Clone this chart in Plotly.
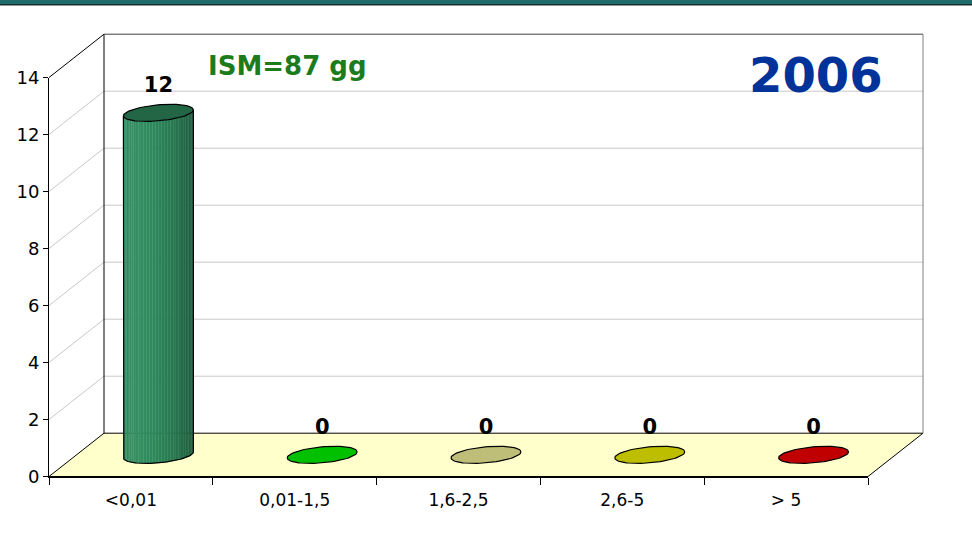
import numpy as np
import plotly.graph_objects as go

# ---- data -------------------------------------------------------------
categories = ["<0,01", "0,01-1,5", "1,6-2,5", "2,6-5", "> 5"]
counts = [12, 0, 0, 0, 0]
bar_colors = ["#2E8B5E", "#00C000", "#BEBE78", "#BEBE00", "#C00000"]
y_ticks = [0, 2, 4, 6, 8, 10, 12, 14]
subtitle = "ISM=87 gg"
year_label = "2006"

# ---- geometry of the pseudo 3-D box (pixels of the page) ---------------
W, H = 972, 546
FX0, FX1 = 49, 868          # front floor edge, left / right
FY0, FY1 = 476.5, 77.5      # front axis, value 0 / top value
YMAX = y_ticks[-1]
N = len(categories)
PX_PER_CAT = (FX1 - FX0) / N
PX_PER_UNIT = (FY0 - FY1) / YMAX
DX = 55 / PX_PER_CAT        # depth offset in category units
DY = 43.3 / PX_PER_UNIT     # depth offset in value units

x_lo = -0.5 - FX0 / PX_PER_CAT
x_hi = -0.5 + (W - FX0) / PX_PER_CAT
y_lo = -(H - FY0) / PX_PER_UNIT
y_hi = FY0 / PX_PER_UNIT

RX = 35 / PX_PER_CAT        # cylinder radius (x)
RY = 8 / PX_PER_UNIT        # ellipse half height
TILT = 3 / PX_PER_UNIT      # slight tilt of the ellipses
LABEL_GAP = 0.9             # value label offset above the cylinder top

FONT = "DejaVu Sans"


def ellipse(cx, cy, t):
    return cx + RX * np.cos(t), cy + RY * np.sin(t) + TILT * np.cos(t)


def hex_rgb(h):
    h = h.lstrip("#")
    return np.array([int(h[i:i + 2], 16) for i in (0, 2, 4)], dtype=float)


def mix(c, f):
    """Scale a colour's brightness by f (f>1 lightens)."""
    rgb = hex_rgb(c)
    if f >= 1:
        rgb = rgb + (255 - rgb) * (f - 1)
    else:
        rgb = rgb * f
    r, g, b = np.clip(rgb, 0, 255).astype(int)
    return f"rgb({r},{g},{b})"


# brightness profile across the cylinder face, left to right
shade_stops = [(0.0, 0.98), (0.12, 1.05), (0.4, 1.0), (0.75, 0.85), (1.0, 0.66)]


def shade_at(u):
    xs = [s[0] for s in shade_stops]
    fs = [s[1] for s in shade_stops]
    return float(np.interp(u, xs, fs))


fig = go.Figure()

# ---- cylinders / flat discs --------------------------------------------
N_STRIPS = 36
for i, (v, col) in enumerate(zip(counts, bar_colors)):
    cx = i + DX / 2
    base = DY / 2
    top = v + DY / 2
    if v > 0:
        ts = np.linspace(np.pi, 2 * np.pi, N_STRIPS + 1)
        for j in range(N_STRIPS):
            tt = np.linspace(ts[j], ts[j + 1], 4)
            xt, yt = ellipse(cx, top, tt)
            xb, yb = ellipse(cx, base, tt[::-1])
            u = (np.cos(ts[j]) + np.cos(ts[j + 1])) / 4 + 0.5
            c = mix(col, shade_at(u))
            fig.add_trace(go.Scatter(
                x=np.concatenate([xt, xb]), y=np.concatenate([yt, yb]),
                mode="lines", fill="toself", fillcolor=c,
                line=dict(color=c, width=0.6), hoverinfo="skip"))
        # outline of the body
        tt = np.linspace(np.pi, 2 * np.pi, 60)
        xb, yb = ellipse(cx, base, tt)
        xl, yl = ellipse(cx, top, np.pi)
        xr, yr = ellipse(cx, top, 2 * np.pi)
        fig.add_trace(go.Scatter(
            x=np.concatenate([[xl], xb, [xr]]),
            y=np.concatenate([[yl], yb, [yr]]),
            mode="lines", line=dict(color="black", width=1.2),
            hoverinfo="skip"))
        top_fill = mix(col, 0.74)
    else:
        top_fill = col
    tt = np.linspace(0, 2 * np.pi, 80)
    xe, ye = ellipse(cx, top, tt)
    fig.add_trace(go.Scatter(
        x=xe, y=ye, mode="lines", fill="toself", fillcolor=top_fill,
        line=dict(color="black", width=1.2), hoverinfo="skip"))

# ---- value labels ------------------------------------------------------
fig.add_trace(go.Scatter(
    x=[i + DX / 2 for i in range(N)],
    y=[v + DY / 2 + LABEL_GAP for v in counts],
    mode="text", text=[str(v) for v in counts],
    textfont=dict(family=FONT, size=21, color="black", weight="bold"),
    textposition="middle center", hoverinfo="skip", cliponaxis=False))

# phantom trace carrying the category axis of the front face
fig.add_trace(go.Scatter(
    x=categories, y=counts, xaxis="x2", yaxis="y2", mode="markers",
    marker=dict(opacity=0), hoverinfo="skip"))

# ---- walls, floor and grid ----------------------------------------------
shapes = []
bx0, bx1 = -0.5 + DX, N - 0.5 + DX


def seg(x0, y0, x1, y1, color, width=1, layer="below"):
    shapes.append(dict(type="line", xref="x", yref="y", x0=x0, y0=y0,
                       x1=x1, y1=y1, layer=layer,
                       line=dict(color=color, width=width)))


for v in y_ticks[1:-1]:
    seg(bx0, v + DY, bx1, v + DY, "#C8C8C8")
    seg(-0.5, v, bx0, v + DY, "#C8C8C8")

shapes.append(dict(
    type="path", xref="x", yref="y", layer="below",
    path=(f"M {-0.5},0 L {N - 0.5},0 L {bx1},{DY} L {bx0},{DY} Z"),
    fillcolor="#FFFFCC", line=dict(color="black", width=1)))

seg(-0.5, YMAX, bx0, YMAX + DY, "black")
seg(bx0, DY, bx0, YMAX + DY, "black")
seg(bx0, YMAX + DY, bx1, YMAX + DY, "#404040")
seg(bx1, DY, bx1, YMAX + DY, "#808080")

# top banner
shapes.append(dict(type="rect", xref="paper", yref="paper", x0=0, x1=1,
                   y0=1 - 4 / H, y1=1, fillcolor="#1F6B6B", line_width=0,
                   layer="above"))
shapes.append(dict(type="rect", xref="paper", yref="paper", x0=0, x1=1,
                   y0=1 - 5.5 / H, y1=1 - 4 / H, fillcolor="#1A2E2E",
                   line_width=0, layer="above"))

annotations = [
    dict(text=f"<b>{subtitle}</b>", xref="paper", yref="paper",
         x=206 / W, y=1 - 66 / H, xanchor="left", yanchor="middle",
         showarrow=False, font=dict(family=FONT, size=26, color="#1C7C1C")),
    dict(text=f"<b>{year_label}</b>", xref="paper", yref="paper",
         x=816 / W, y=1 - 75 / H, xanchor="center", yanchor="middle",
         showarrow=False, font=dict(family=FONT, size=48, color="#003399")),
]

fig.update_layout(
    width=W, height=H,
    margin=dict(l=0, r=0, t=0, b=0, pad=0, autoexpand=False),
    paper_bgcolor="white", plot_bgcolor="rgba(0,0,0,0)",
    showlegend=False, shapes=shapes, annotations=annotations,
    xaxis=dict(domain=[0, 1], range=[x_lo, x_hi], visible=False,
               fixedrange=True, automargin=False),
    yaxis=dict(domain=[0, 1], range=[y_lo, y_hi], visible=False,
               fixedrange=True, automargin=False),
    xaxis2=dict(domain=[FX0 / W, FX1 / W], anchor="y2", type="category",
                categoryorder="array", categoryarray=categories,
                range=[-0.5, N - 0.5], tickson="boundaries", ticks="outside",
                ticklen=7, tickcolor="black", showline=True,
                linecolor="black", linewidth=1, showgrid=False,
                ticklabelstandoff=8,
                tickfont=dict(family=FONT, size=17, color="black"),
                fixedrange=True, automargin=False),
    yaxis2=dict(domain=[(H - FY0) / H, (H - FY1) / H], anchor="x2",
                range=[0, YMAX], tickvals=y_ticks, ticks="outside",
                ticklen=5, tickcolor="black", showline=True,
                linecolor="black", linewidth=1, showgrid=False,
                zeroline=False,
                tickfont=dict(family=FONT, size=18, color="black"),
                fixedrange=True, automargin=False),
)

fig.write_html("out.html",
               post_script="document.body.style.margin='0';")
